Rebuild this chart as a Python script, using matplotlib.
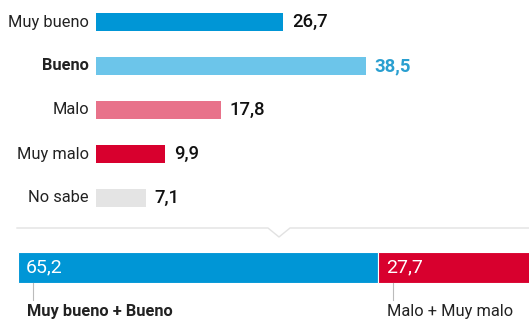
import matplotlib.pyplot as plt
from matplotlib.lines import Line2D

plt.rcParams['font.family'] = ['Roboto', 'DejaVu Sans']

categorias = ["Muy bueno", "Bueno", "Malo", "Muy malo", "No sabe"]
valores = [26.7, 38.5, 17.8, 9.9, 7.1]
colores = ["#0096d6", "#6cc5ea", "#e8728a", "#d8002e", "#e4e4e4"]

grupos = ["Muy bueno + Bueno", "Malo + Muy malo"]
valores_grupo = [65.2, 27.7]
colores_grupo = ["#0096d6", "#d8002e"]

W, H = 529, 320
fig = plt.figure(figsize=(W / 100, H / 100), dpi=100)

def fx(px):
    return px / W

def fy(py):
    return 1 - py / H

# ----- barras por respuesta -----
ax = fig.add_axes([fx(96), fy(220), fx(W - 96), 220 / H])
ax.barh(range(len(categorias)), valores, height=0.43, color=colores)
ax.set_xlim(0, (W - 96) / 7.0)
ax.set_ylim(4.5, -0.5)
ax.axis("off")

for i, (cat, v) in enumerate(zip(categorias, valores)):
    destacado = cat == "Bueno"
    ax.text(-1.0, i, cat, ha="right", va="center", fontsize=11.8,
            fontweight="bold" if destacado else "normal", color="#222222")
    ax.text(v + 1.3, i, f"{v:.1f}".replace(".", ","), ha="left", va="center",
            fontsize=13.3, fontweight="bold" if destacado else "medium",
            color="#2a9fd0" if destacado else "#111111")

# ----- separador con muesca -----
gris = "#e2e2e2"
fig.add_artist(Line2D([fx(17), fx(268), fx(279), fx(290), fx(W)],
                      [fy(228), fy(228), fy(237), fy(228), fy(228)],
                      color=gris, lw=1.0))

# ----- barra apilada de totales -----
ax2 = fig.add_axes([fx(18), 0, fx(W - 18), fy(240)])
izq = 0
for g, v, c in zip(grupos, valores_grupo, colores_grupo):
    ax2.barh(0, v, left=izq, height=1, color=c, edgecolor="white", lw=0.8)
    ax2.text(izq + 1.4, 0.0, f"{v:.1f}".replace(".", ","), ha="left",
             va="center", fontsize=14, color="white")
    ax2.plot([izq + 2.7, izq + 2.7], [0.5, 1.05], color="#bbbbbb", lw=0.8,
             clip_on=False)
    ax2.text(izq + 1.6, 1.42, g, ha="left", va="center", fontsize=11.8,
             fontweight="bold" if izq == 0 else "normal", color="#222222",
             clip_on=False)
    izq += v
ax2.set_xlim(0, (W - 18) / 5.52)
ax2.set_ylim(1.694, -0.887)
ax2.axis("off")

fig.savefig("out.png", dpi=100)
